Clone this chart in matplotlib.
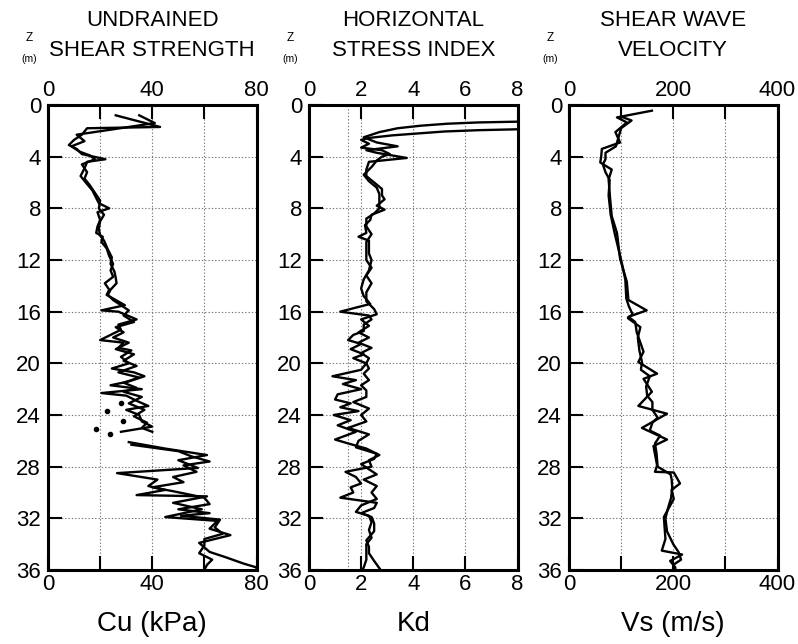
import numpy as np
import matplotlib
matplotlib.use("Agg")
import matplotlib.pyplot as plt

plt.rcParams['font.family'] = ['Liberation Sans', 'DejaVu Sans']

nan = np.nan

# ---------------- Panel 1 : undrained shear strength Cu (kPa) ----------------
z_cu_a = [0.8, 1.7, 1.8, 2.3, 2.7, 3.1, 3.4, 3.8, 4.2, 4.4, 4.9, 5.5, 6.0, 6.6, 7.2, 7.6,
          8.0, 8.3, 8.9, 9.4, 9.9, 10.2, 10.6, 11.1, 11.7, 12.3, 12.8, 13.3, 13.8, 14.3,
          14.7, 15.1, 15.5, 15.9, 16.0, 16.6, 17.0, 17.4, 17.8, 18.2, 18.4, 18.8, 19.0,
          19.5, 20.0, 20.4, 20.7, 21.0, 21.4, 21.7, 22.0, 22.3, 22.5, 22.9, 23.3, 23.6,
          24.0, 24.5, 24.9, 25.3, nan, 26.1, 26.6, 27.1, 27.5, 28.1, 28.5, 29.0, 29.5,
          29.8, 30.2, 30.3, 30.8, 31.3, 31.9, 32.2, 32.8, 33.3, 33.9, 34.6, 35.0, 35.5,
          35.8, 36.0]
cu_a = [26, 43, 15, 13, 10, 8, 11, 13, 22, 15, 14, 12.5, 14.5, 17, 18.5, 19.5,
        23.5, 19, 20, 19, 18.5, 21, 20.5, 22.5, 23.5, 25, 24, 25, 21.8, 23.5,
        22.5, 26, 29.5, 20.5, 27, 34, 27, 28, 24, 20, 29, 27, 32,
        28, 31, 24.5, 33, 37, 31, 24, 36, 20.5, 30, 34, 38.5, 30,
        35, 36, 40, 28, nan, 31, 45, 61, 50, 57.5, 26.5, 42, 38.5,
        45, 34, 61, 48, 59, 45, 65, 62, 70, 58, 62, 68, 75,
        80, 80]

z_cu_b = [0.8, 1.4, 2.3, 2.8, 3.2, 3.6, 3.9, 4.2, 4.6, 5.2, 5.7, 6.2, 6.8, 7.4, 8.0, 8.5,
          9.0, 9.6, 10.1, 10.5, 11.2, 11.8, 12.3, 12.9, 13.4, 13.8, 14.3, 14.7, 15.1,
          15.5, 15.9, 16.3, 16.8, 17.2, 17.6, 18.0, 18.4, 18.9, 19.3, 19.8, 20.2, 20.7,
          21.1, 21.5, 21.9, 22.2, 22.6, 23.1, 23.6, 24.1, 24.6, 25.0, 25.3, nan, 26.3,
          26.8, 27.2, 27.6, 27.9, 28.4, 28.8, 29.2, 29.6, 29.9, 30.4, 30.9, 31.3, 31.6,
          31.8, 32.1, 32.7, 33.2, 33.6, 34.1, 34.7, 35.2, 35.6, 36.0]
cu_b = [35, 41, 11, 14, 9, 12, 16, 18, 13, 15, 14, 16, 18, 20, 19.5, 21.5,
        20, 19.5, 20, 21.5, 23, 24.5, 24, 25.5, 26, 26.3, 24, 23, 25,
        28, 31, 29, 33, 26, 29, 25, 31, 26, 33, 29, 34, 27,
        35, 29, 34, 29, 36, 31, 37, 33, 38, 36, 40, nan, 32,
        50, 55, 62, 52, 57, 48, 52, 40, 48, 60, 62, 50, 62,
        51, 66, 64, 67, 60, 60, 58, 63, 61, 60]

z_cu_dots = [23.1, 23.7, 24.5, 25.1, 25.5]
cu_dots = [28.2, 22.5, 28.8, 18.6, 23.7]

# ---------------- Panel 2 : horizontal stress index Kd ----------------
z_kd_a = [1.29, 1.35, 1.45, 1.6, 1.8, 2.1, 2.5, 2.9, 3.2, 3.5, 3.7, 4.1, 4.4, 5.0, 5.5,
          6.0, 6.5, 7.0, 7.3, 7.8, 8.1, 8.5, 8.9, 9.3, 9.9, 10.2, 10.5, 11.5, 12.0,
          12.8, 13.5, 14.2, 14.8, 15.4, 16.0, 16.3, 16.6, 17.0, 17.5, 17.8, 18.2,
          18.5, 18.9, 19.3, 19.6, 20.0, 20.5, 21.0, 21.3, 21.6, 22.0, 22.4, 22.8,
          23.1, 23.4, 23.7, 24.0, 24.4, 24.8, 25.3, 25.9, 26.2, 26.6, 27.1, 27.5,
          28.0, 28.4, 28.8, 29.3, 29.6, 30.0, 30.4, 30.8, 31.2, 31.6, 31.9, 32.4,
          33.0, 33.7, 34.2, 34.7, 35.3, 36.0]
kd_a = [8.0, 6.5, 5.3, 4.3, 3.4, 2.7, 2.1, 2.6, 3.4, 2.2, 2.6, 3.75, 2.3, 2.2, 2.2,
        2.5, 2.8, 2.8, 2.9, 2.6, 2.9, 2.4, 2.35, 2.15, 2.2, 1.9, 2.3, 2.3, 2.4,
        2.3, 2.1, 2.0, 2.1, 2.35, 1.2, 2.3, 2.4, 2.1, 2.1, 1.7, 1.5,
        2.0, 1.6, 2.1, 1.7, 2.2, 2.0, 0.9, 1.8, 1.3, 2.0, 1.1, 1.0,
        1.6, 1.2, 1.9, 0.95, 1.6, 1.1, 1.8, 1.0, 1.5, 2.2, 2.7, 2.3,
        2.4, 1.4, 1.8, 2.0, 1.6, 1.7, 1.2, 2.6, 2.5, 2.0, 2.4, 2.5,
        2.5, 2.2, 2.3, 2.3, 2.5, 2.75]

z_kd_b = [1.88, 1.95, 2.05, 2.2, 2.35, 2.55, 2.7, 3.0, 3.3, 3.5, 3.8, 4.0, 4.3, 4.8,
          5.4, 5.9, 6.4, 6.9, 7.5, 8.0, 8.4, 8.8, 9.4, 10.0, 10.6, 11.3, 12.0, 12.6,
          13.2, 13.8, 14.5, 15.2, 15.8, 16.2, 16.6, 17.1, 17.6, 18.0, 18.4, 18.8,
          19.2, 19.6, 20.0, 20.4, 20.8, 21.3, 21.7, 22.1, 22.6, 23.0, 23.5, 24.0,
          24.5, 25.0, 25.5, 26.0, 26.5, 27.0, 27.4, 27.8, 28.2, 28.6, 29.0, 29.5,
          30.0, 30.5, 31.0, 31.5, 31.8, 32.3, 32.9, 33.5, 34.0, 34.6, 35.2, 35.8, 36.0]
kd_b = [8.0, 6.5, 5.2, 4.2, 3.2, 2.3, 2.0, 2.3, 2.0, 2.8, 3.1, 2.8, 2.6, 2.4,
        2.1, 2.3, 2.6, 2.7, 2.7, 2.7, 2.5, 2.2, 2.2, 2.4, 2.2, 2.2, 2.2, 2.4,
        2.2, 2.4, 2.2, 2.2, 2.5, 2.6, 2.0, 2.3, 1.9, 2.3, 1.9, 2.4,
        2.0, 2.3, 2.2, 2.3, 2.1, 2.3, 2.0, 2.2, 2.2, 1.7, 2.3, 2.0,
        2.2, 1.5, 2.3, 1.9, 1.8, 2.6, 2.5, 2.0, 2.3, 2.6, 2.1, 2.6,
        2.4, 2.6, 2.0, 1.8, 2.3, 2.4, 2.3, 2.4, 2.2, 2.2, 2.2, 2.1, 2.05]

kd_ref_line = 1.5

# ---------------- Panel 3 : shear wave velocity Vs (m/s) ----------------
z_vs_a = [0.44, 0.96, 1.35, 2.1, 2.9, 3.4, 3.9, 4.45, 5.0, 5.75, 7.3, 8.6, 9.9, 11.9,
          13.7, 15.1, 15.9, 16.4, 16.8, 17.6, 19.1, 19.9, 20.8, 21.2, 22.2, 23.3,
          23.9, 25.0, 25.9, 26.4, 27.9, 28.4, 28.45, 29.3, 29.8, 30.5, 31.9, 33.6,
          34.5, 34.8, 35.3, 35.8, 36.0]
vs_a = [159, 92, 111, 89, 98, 63, 62, 60, 82, 76, 79, 82, 92, 98,
        111, 114, 149, 114, 127, 130, 143, 133, 169, 143, 159, 133,
        188, 140, 188, 162, 169, 165, 201, 213, 197, 201, 182, 185,
        178, 217, 194, 204, 200]

z_vs_b = [0.9, 1.2, 1.8, 2.5, 3.2, 3.7, 4.2, 4.6, 5.2, 5.8, 7.0, 8.5, 10.0, 12.0,
          13.5, 15.0, 15.6, 16.2, 16.5, 17.2, 18.0, 19.0, 19.9, 20.5, 21.0, 21.8,
          22.5, 23.0, 23.6, 24.2, 24.6, 25.2, 25.6, 26.2, 27.0, 28.0, 28.6, 29.0,
          29.6, 30.4, 31.2, 32.0, 33.0, 34.0, 34.6, 35.2, 35.6, 36.0]
vs_b = [100, 120, 100, 95, 90, 70, 70, 65, 70, 78, 76, 80, 88, 100,
        108, 110, 115, 122, 113, 137, 132, 135, 140, 138, 155, 148,
        150, 160, 160, 170, 160, 155, 175, 165, 168, 170, 195, 197,
        198, 196, 190, 185, 188, 200, 210, 215, 200, 205]

# ---------------- axes texts ----------------
titles = [("UNDRAINED", "SHEAR STRENGTH"), ("HORIZONTAL", "STRESS INDEX"), ("SHEAR WAVE", "VELOCITY")]
xlabels = ["Cu (kPa)", "Kd", "Vs (m/s)"]
xlims = [80, 8, 400]
xticks = [[0, 20, 40, 60, 80], [0, 2, 4, 6, 8], [0, 100, 200, 300, 400]]
xticklabels = [["0", "", "40", "", "80"], ["0", "2", "4", "6", "8"], ["0", "", "200", "", "400"]]
depth_ticks = list(range(0, 37, 4))

W, H = 798, 644
fig = plt.figure(figsize=(W / 100, H / 100), dpi=100)
lefts = [48, 309, 569]
pw = 208.5
top_px, bot_px = 105, 570

axes = []
for i, lx in enumerate(lefts):
    ax = fig.add_axes([lx / W, (H - bot_px) / H, pw / W, (bot_px - top_px) / H])
    axes.append(ax)
    ax.set_xlim(0, xlims[i])
    ax.set_ylim(36, 0)
    ax.set_yticks(depth_ticks)
    ax.set_xticks(xticks[i])
    ax.set_xticklabels(xticklabels[i])
    ax.tick_params(axis='y', direction='in', length=10, width=1.5, left=True, right=False,
                   labelsize=16, pad=5)
    ax.tick_params(axis='x', direction='in', length=10, width=1.5, top=True, bottom=True,
                   labeltop=True, labelbottom=True, labelsize=16, pad=3)
    ax.grid(True, linestyle=(0, (1.2, 1.8)), color='#777777', linewidth=0.8)
    for s in ax.spines.values():
        s.set_linewidth(2.2)
    cx = (lx + pw / 2) / W
    fig.text(cx, 1 - 21 / H, titles[i][0], ha='center', va='center', fontsize=16)
    fig.text(cx, 1 - 51 / H, titles[i][1], ha='center', va='center', fontsize=16)
    fig.text((lx - 19) / W, 1 - 38 / H, "Z", ha='center', va='center', fontsize=8.5)
    fig.text((lx - 19) / W, 1 - 59 / H, "(m)", ha='center', va='center', fontsize=7.5)
    ax.set_xlabel(xlabels[i], fontsize=20)
    ax.xaxis.set_label_coords(0.5, -0.088)

lw = 1.7
axes[0].plot(cu_a, z_cu_a, color='black', lw=lw)
axes[0].plot(cu_b, z_cu_b, color='black', lw=lw)
axes[0].plot(cu_dots, z_cu_dots, 'o', color='black', ms=3)

axes[1].axvline(kd_ref_line, linestyle=(0, (1.2, 1.8)), color='#777777', linewidth=0.8)
axes[1].plot(kd_a, z_kd_a, color='black', lw=lw)
axes[1].plot(kd_b, z_kd_b, color='black', lw=lw)

axes[2].plot(vs_a, z_vs_a, color='black', lw=lw)
axes[2].plot(vs_b, z_vs_b, color='black', lw=lw)

fig.savefig("out.png", dpi=100)
